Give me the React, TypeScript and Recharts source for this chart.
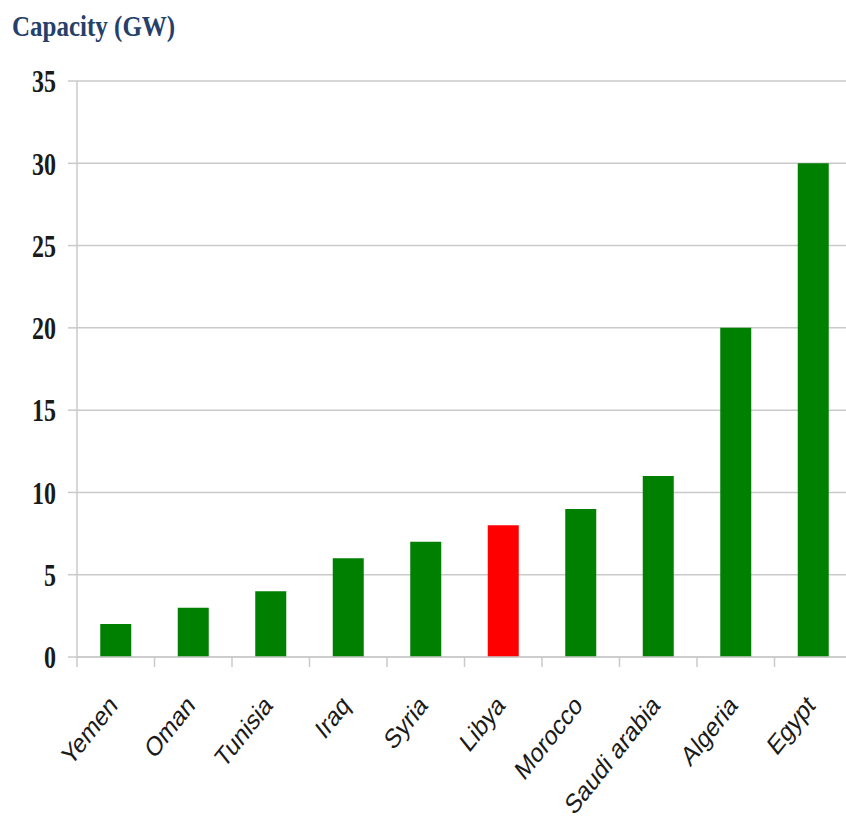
import React from "react";
import { BarChart, Bar, XAxis, YAxis, CartesianGrid, Cell } from "recharts";

// Installed capacity by country (GW)
const countries = ["Yemen", "Oman", "Tunisia", "Iraq", "Syria", "Libya", "Morocco", "Saudi arabia", "Algeria", "Egypt"];
const capacity = [2, 3, 4, 6, 7, 8, 9, 11, 20, 30];
const highlighted = ["Libya"];
const yTicks = [0, 5, 10, 15, 20, 25, 30, 35];

const data = countries.map((name, i) => ({ name, value: capacity[i] }));

const CHART_W = 860;
const CHART_H = 823;
const Y_AXIS_W = 77;
const MARGIN = { top: 81, right: 8, left: 0, bottom: 0 };
const PLOT_W = CHART_W - Y_AXIS_W - MARGIN.left - MARGIN.right;
const BAND = PLOT_W / countries.length;

const GREEN = "#008000";
const RED = "#ff0000";
const GRID = "#cacaca";
const SERIF = "'Liberation Serif', 'Times New Roman', serif";

// Category label: slanted country name plus a tick mark on the band boundary
const CountryTick = (props: any) => {
  const { x, y, payload } = props;
  return (
    <g>
      <line x1={x - BAND / 2} x2={x - BAND / 2} y1={y} y2={y + 10} stroke={GRID} strokeWidth={1.5} />
      <g transform={`translate(${x + 3},${y + 50}) scale(1,1.25) rotate(-45)`}>
        <text textAnchor="end" fontFamily="'Liberation Sans', Arial, sans-serif" fontSize={22} fill="#1a1a1a">
          {payload.value}
        </text>
      </g>
    </g>
  );
};

// Value label: tall bold serif digits
const ValueTick = (props: any) => {
  const { x, y, payload } = props;
  return (
    <g transform={`translate(${x},${y}) scale(1,1.35)`}>
      <text textAnchor="end" dy="0.35em" fontFamily={SERIF} fontWeight="bold" fontSize={24} fill="#1a1a1a">
        {payload.value}
      </text>
    </g>
  );
};

export default function App() {
  return (
    <div style={{ position: "absolute", left: 0, top: 0, width: 846, height: 823, overflow: "hidden", background: "#fff" }}>
      <svg width={300} height={60} style={{ position: "absolute", left: 0, top: 0 }}>
        <text transform="translate(12,36) scale(1,1.2)" fontFamily={SERIF} fontWeight="bold" fontSize={25} fill="#24406b">
          Capacity (GW)
        </text>
      </svg>
      <BarChart width={CHART_W} height={CHART_H} data={data} margin={MARGIN} barCategoryGap="30%">
        <CartesianGrid vertical={false} stroke={GRID} strokeWidth={1.5} />
        <XAxis
          dataKey="name"
          height={166}
          interval={0}
          tickLine={false}
          tickSize={0}
          tickMargin={0}
          axisLine={{ stroke: GRID, strokeWidth: 1.5 }}
          tick={<CountryTick />}
        />
        <YAxis
          width={Y_AXIS_W}
          domain={[0, 35]}
          ticks={yTicks}
          interval={0}
          tickSize={9}
          tickMargin={12}
          axisLine={{ stroke: GRID, strokeWidth: 1.5 }}
          tickLine={{ stroke: GRID, strokeWidth: 1.5 }}
          tick={<ValueTick />}
        />
        <Bar dataKey="value" isAnimationActive={false}>
          {data.map((d) => (
            <Cell key={d.name} fill={highlighted.includes(d.name) ? RED : GREEN} />
          ))}
        </Bar>
      </BarChart>
    </div>
  );
}
